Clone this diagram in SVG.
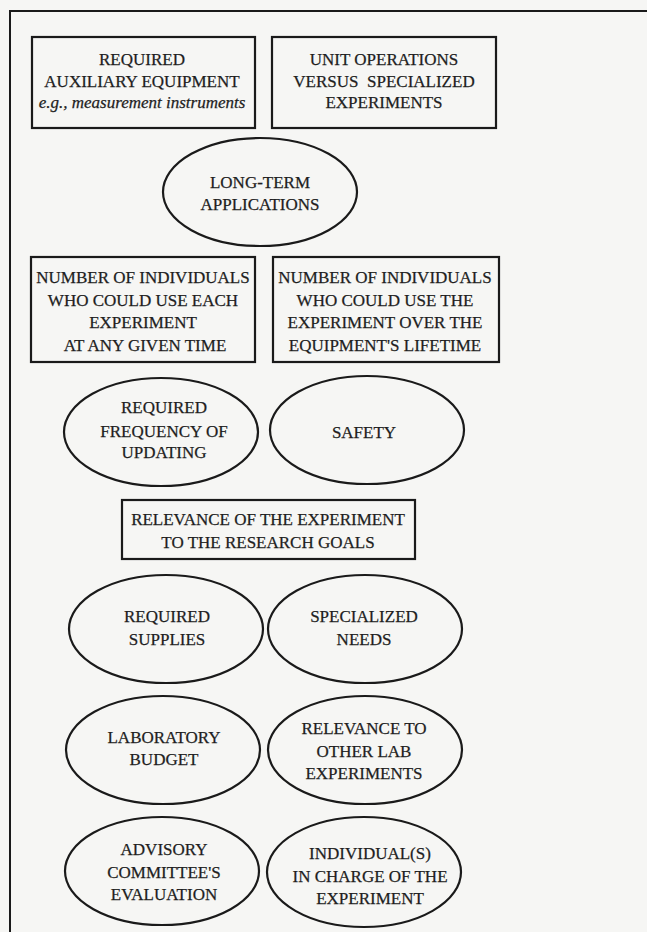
<svg xmlns="http://www.w3.org/2000/svg" width="647" height="932" viewBox="0 0 647 932" font-family="Liberation Serif, serif">
<style>
.bg{fill:#f6f6f4}
.frame{fill:none;stroke:#1a1a1a;stroke-width:2}
.shape{fill:none;stroke:#1a1a1a;stroke-width:2.2}
text{font-family:'Liberation Serif','Times New Roman',serif;font-size:17px;fill:#1e1e1e;stroke:#1e1e1e;stroke-width:0.25;text-anchor:middle}
.it{font-style:italic}
</style>
<rect class="bg" x="0" y="0" width="647" height="932"/>
<path class="frame" d="M10,932 V11 H647"/>
<g id="connectors"></g>
<g id="aux">
<rect class="shape" x="32" y="37" width="223" height="91"/>
<text x="142" y="65">REQUIRED</text>
<text x="142" y="87">AUXILIARY EQUIPMENT</text>
<text class="it" x="142" y="108">e.g., measurement instruments</text>
</g>
<g id="unitops">
<rect class="shape" x="272" y="37" width="224" height="91"/>
<text x="384" y="65">UNIT OPERATIONS</text>
<text x="384" y="87" xml:space="preserve">VERSUS  SPECIALIZED</text>
<text x="384" y="108">EXPERIMENTS</text>
</g>
<g id="longterm">
<ellipse class="shape" cx="260" cy="192" rx="97" ry="54"/>
<text x="260" y="188">LONG-TERM</text>
<text x="260" y="210">APPLICATIONS</text>
</g>
<g id="numeach">
<rect class="shape" x="31" y="257" width="224" height="105"/>
<text x="143" y="283">NUMBER OF INDIVIDUALS</text>
<text x="143" y="306">WHO COULD USE EACH</text>
<text x="143" y="328">EXPERIMENT</text>
<text x="145" y="351">AT ANY GIVEN TIME</text>
</g>
<g id="numlife">
<rect class="shape" x="273" y="257" width="226" height="105"/>
<text x="385" y="283">NUMBER OF INDIVIDUALS</text>
<text x="385" y="306">WHO COULD USE THE</text>
<text x="385" y="328">EXPERIMENT OVER THE</text>
<text x="385" y="351">EQUIPMENT'S LIFETIME</text>
</g>
<g id="frequency">
<ellipse class="shape" cx="161" cy="432" rx="97" ry="54"/>
<text x="164" y="413">REQUIRED</text>
<text x="164" y="437">FREQUENCY OF</text>
<text x="164" y="458">UPDATING</text>
</g>
<g id="safety">
<ellipse class="shape" cx="367" cy="430" rx="97" ry="54"/>
<text x="364" y="438">SAFETY</text>
</g>
<g id="relevance-goals">
<rect class="shape" x="122" y="500" width="293" height="59"/>
<text x="268" y="525">RELEVANCE OF THE EXPERIMENT</text>
<text x="268" y="548">TO THE RESEARCH GOALS</text>
</g>
<g id="supplies">
<ellipse class="shape" cx="166" cy="629" rx="97" ry="54"/>
<text x="167" y="622">REQUIRED</text>
<text x="167" y="645">SUPPLIES</text>
</g>
<g id="specialized">
<ellipse class="shape" cx="365" cy="629" rx="97" ry="54"/>
<text x="364" y="622">SPECIALIZED</text>
<text x="364" y="645">NEEDS</text>
</g>
<g id="budget">
<ellipse class="shape" cx="163" cy="750" rx="97" ry="54"/>
<text x="164" y="743">LABORATORY</text>
<text x="164" y="765">BUDGET</text>
</g>
<g id="relevance-other">
<ellipse class="shape" cx="365" cy="750" rx="97" ry="54"/>
<text x="364" y="734">RELEVANCE TO</text>
<text x="364" y="757">OTHER LAB</text>
<text x="364" y="779">EXPERIMENTS</text>
</g>
<g id="advisory">
<ellipse class="shape" cx="162" cy="871" rx="97" ry="54"/>
<text x="164" y="855">ADVISORY</text>
<text x="164" y="878">COMMITTEE'S</text>
<text x="164" y="900">EVALUATION</text>
</g>
<g id="incharge">
<ellipse class="shape" cx="364" cy="872" rx="97" ry="55"/>
<text x="370" y="859">INDIVIDUAL(S)</text>
<text x="370" y="882">IN CHARGE OF THE</text>
<text x="370" y="904">EXPERIMENT</text>
</g>
</svg>
